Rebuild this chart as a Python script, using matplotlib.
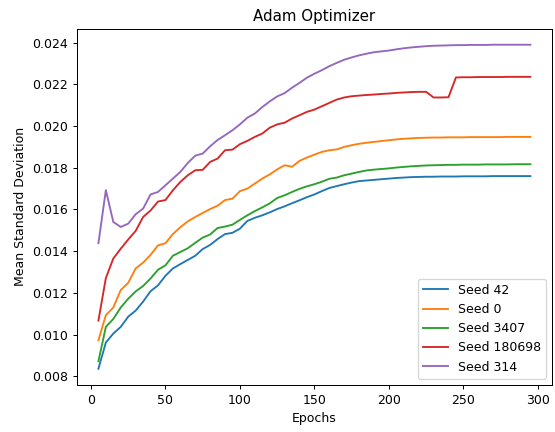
import matplotlib
matplotlib.use('Agg')
import matplotlib.pyplot as plt
import numpy as np

# Mean std of weights per epoch, one curve per random seed
EPOCHS = list(range(5, 300, 5))

SEED_42 = [
    0.00836, 0.00962, 0.01005, 0.01037, 0.01086, 0.01115, 0.01158, 0.01208, 0.01236, 0.01282,
    0.01317, 0.01338, 0.01358, 0.01378, 0.01410, 0.01430, 0.01458, 0.01482, 0.01488, 0.01508,
    0.01545, 0.01560, 0.01572, 0.01586, 0.01602, 0.01615, 0.01630, 0.01644, 0.01659, 0.01672,
    0.01688, 0.01703, 0.01712, 0.01721, 0.01729, 0.01736, 0.01739, 0.01742, 0.01745, 0.01748,
    0.01751, 0.01753, 0.01755, 0.01756, 0.01757, 0.01757, 0.01758, 0.01758, 0.01758, 0.01759,
    0.01759, 0.01759, 0.01759, 0.01760, 0.01760, 0.01760, 0.01760, 0.01760, 0.01760,
]
SEED_0 = [
    0.00973, 0.01093, 0.01130, 0.01214, 0.01248, 0.01317, 0.01345, 0.01382, 0.01428, 0.01438,
    0.01482, 0.01515, 0.01543, 0.01564, 0.01583, 0.01602, 0.01618, 0.01645, 0.01652, 0.01688,
    0.01700, 0.01724, 0.01748, 0.01768, 0.01792, 0.01812, 0.01805, 0.01833, 0.01849, 0.01863,
    0.01876, 0.01884, 0.01888, 0.01900, 0.01908, 0.01915, 0.01920, 0.01924, 0.01928, 0.01932,
    0.01936, 0.01939, 0.01941, 0.01943, 0.01944, 0.01945, 0.01945, 0.01946, 0.01946, 0.01946,
    0.01947, 0.01947, 0.01947, 0.01947, 0.01947, 0.01948, 0.01948, 0.01948, 0.01948,
]
SEED_3407 = [
    0.00872, 0.01037, 0.01075, 0.01130, 0.01172, 0.01207, 0.01233, 0.01269, 0.01311, 0.01332,
    0.01378, 0.01396, 0.01414, 0.01440, 0.01465, 0.01480, 0.01511, 0.01518, 0.01527, 0.01550,
    0.01572, 0.01592, 0.01610, 0.01629, 0.01655, 0.01668, 0.01684, 0.01699, 0.01711, 0.01721,
    0.01733, 0.01747, 0.01753, 0.01764, 0.01772, 0.01780, 0.01787, 0.01791, 0.01794, 0.01797,
    0.01801, 0.01804, 0.01807, 0.01809, 0.01811, 0.01812, 0.01813, 0.01814, 0.01814, 0.01815,
    0.01815, 0.01815, 0.01816, 0.01816, 0.01816, 0.01816, 0.01817, 0.01817, 0.01817,
]
SEED_180698 = [
    0.01067, 0.01271, 0.01365, 0.01412, 0.01456, 0.01497, 0.01564, 0.01595, 0.01638, 0.01645,
    0.01692, 0.01732, 0.01764, 0.01788, 0.01790, 0.01828, 0.01844, 0.01884, 0.01887, 0.01913,
    0.01929, 0.01948, 0.01964, 0.01992, 0.02008, 0.02016, 0.02036, 0.02052, 0.02068, 0.02079,
    0.02095, 0.02111, 0.02127, 0.02137, 0.02143, 0.02146, 0.02149, 0.02151, 0.02154, 0.02156,
    0.02159, 0.02161, 0.02163, 0.02164, 0.02164, 0.02137, 0.02137, 0.02138, 0.02233, 0.02234,
    0.02234, 0.02235, 0.02235, 0.02235, 0.02235, 0.02236, 0.02236, 0.02236, 0.02236,
]
SEED_314 = [
    0.01438, 0.01693, 0.01540, 0.01516, 0.01532, 0.01577, 0.01604, 0.01672, 0.01684, 0.01716,
    0.01748, 0.01780, 0.01823, 0.01858, 0.01868, 0.01903, 0.01933, 0.01956, 0.01980, 0.02008,
    0.02040, 0.02060, 0.02091, 0.02118, 0.02142, 0.02158, 0.02184, 0.02207, 0.02232, 0.02251,
    0.02268, 0.02287, 0.02303, 0.02318, 0.02329, 0.02339, 0.02347, 0.02354, 0.02358, 0.02362,
    0.02368, 0.02373, 0.02377, 0.02380, 0.02383, 0.02385, 0.02386, 0.02387, 0.02388, 0.02388,
    0.02389, 0.02389, 0.02389, 0.02390, 0.02390, 0.02390, 0.02390, 0.02390, 0.02390,
]

SERIES = [SEED_42, SEED_0, SEED_3407, SEED_180698, SEED_314]
LABELS = ['Seed 42', 'Seed 0', 'Seed 3407', 'Seed 180698', 'Seed 314']

fig = plt.figure(figsize=(555 / 90, 432 / 90), dpi=90)
ax = fig.add_axes([0.1384, 0.1088, 0.8562, 0.8252])

for vals, label in zip(SERIES, LABELS):
    ax.plot(EPOCHS, vals, label=label)

ax.set_title('Adam Optimizer')
ax.set_xlabel('Epochs')
ax.set_ylabel('Mean Standard Deviation')
ax.legend(loc='lower right')

fig.savefig('out.png', dpi=90)
